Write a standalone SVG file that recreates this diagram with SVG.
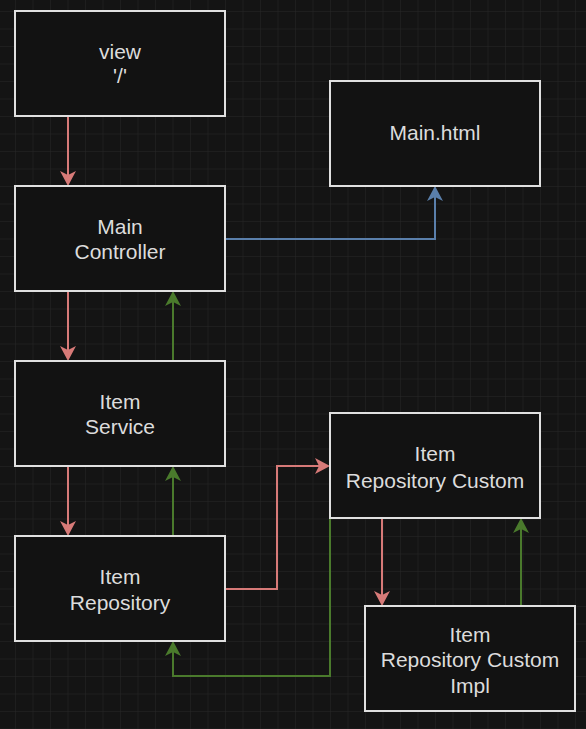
<svg xmlns="http://www.w3.org/2000/svg" width="586" height="729" viewBox="0 0 586 729">
<style>
.node rect{fill:#121212;stroke:#e0e0e0;stroke-width:2}
.node text{font-family:"Liberation Sans",Arial,sans-serif;font-size:21px;fill:#dcdcdc;text-anchor:middle;dominant-baseline:central}
.c{fill:none;stroke-width:2}
.red{stroke:#d77a78}
.green{stroke:#4a7a2c}
.blue{stroke:#5a7fab}
</style>
<defs>
<pattern id="grid" x="15" y="11" width="17.5" height="17.5" patternUnits="userSpaceOnUse">
<path d="M0,0 H17.5 M0,0 V17.5" stroke="#272727" stroke-width="1" fill="none"/>
</pattern>
<marker id="ar" viewBox="-16 -9 17 18" refX="-5" refY="0" markerWidth="17" markerHeight="18" markerUnits="userSpaceOnUse" orient="auto"><path d="M0,0 L-15,-8 L-11,0 L-15,8 Z" fill="#d77a78"/></marker>
<marker id="ag" viewBox="-16 -9 17 18" refX="-5" refY="0" markerWidth="17" markerHeight="18" markerUnits="userSpaceOnUse" orient="auto"><path d="M0,0 L-15,-8 L-11,0 L-15,8 Z" fill="#4a7a2c"/></marker>
<marker id="ab" viewBox="-16 -9 17 18" refX="-5" refY="0" markerWidth="17" markerHeight="18" markerUnits="userSpaceOnUse" orient="auto"><path d="M0,0 L-15,-8 L-11,0 L-15,8 Z" fill="#5a7fab"/></marker>
</defs>
<rect width="586" height="729" fill="#141414"/>
<rect width="586" height="729" fill="url(#grid)"/>
<g id="connectors">
<path class="c red" d="M68,116 V181" marker-end="url(#ar)"/>
<path class="c red" d="M68,291 V356" marker-end="url(#ar)"/>
<path class="c green" d="M173,361 V296" marker-end="url(#ag)"/>
<path class="c red" d="M68,466 V531" marker-end="url(#ar)"/>
<path class="c green" d="M173,536 V471" marker-end="url(#ag)"/>
<path class="c blue" d="M225,239 H435 V191" marker-end="url(#ab)"/>
<path class="c red" d="M225,589 H277 V466 H325" marker-end="url(#ar)"/>
<path class="c green" d="M330,518 V676 H173 V646" marker-end="url(#ag)"/>
<path class="c red" d="M382,518 V601" marker-end="url(#ar)"/>
<path class="c green" d="M521,606 V523" marker-end="url(#ag)"/>
</g>
<g id="view" class="node"><rect x="15" y="11" width="210" height="105"/><text x="120" y="51">view</text><text x="120" y="75">'/'</text></g>
<g id="mainhtml" class="node"><rect x="330" y="81" width="210" height="105"/><text x="435" y="132">Main.html</text></g>
<g id="maincontroller" class="node"><rect x="15" y="186" width="210" height="105"/><text x="120" y="226">Main</text><text x="120" y="251">Controller</text></g>
<g id="itemservice" class="node"><rect x="15" y="361" width="210" height="105"/><text x="120" y="401">Item</text><text x="120" y="426">Service</text></g>
<g id="itemrepository" class="node"><rect x="15" y="536" width="210" height="105"/><text x="120" y="576">Item</text><text x="120" y="602">Repository</text></g>
<g id="itemrepositorycustom" class="node"><rect x="330" y="413" width="210" height="105"/><text x="435" y="453">Item</text><text x="435" y="480">Repository Custom</text></g>
<g id="itemrepositorycustomimpl" class="node"><rect x="365" y="606" width="210" height="105"/><text x="470" y="634">Item</text><text x="470" y="659">Repository Custom</text><text x="470" y="685">Impl</text></g>
</svg>
